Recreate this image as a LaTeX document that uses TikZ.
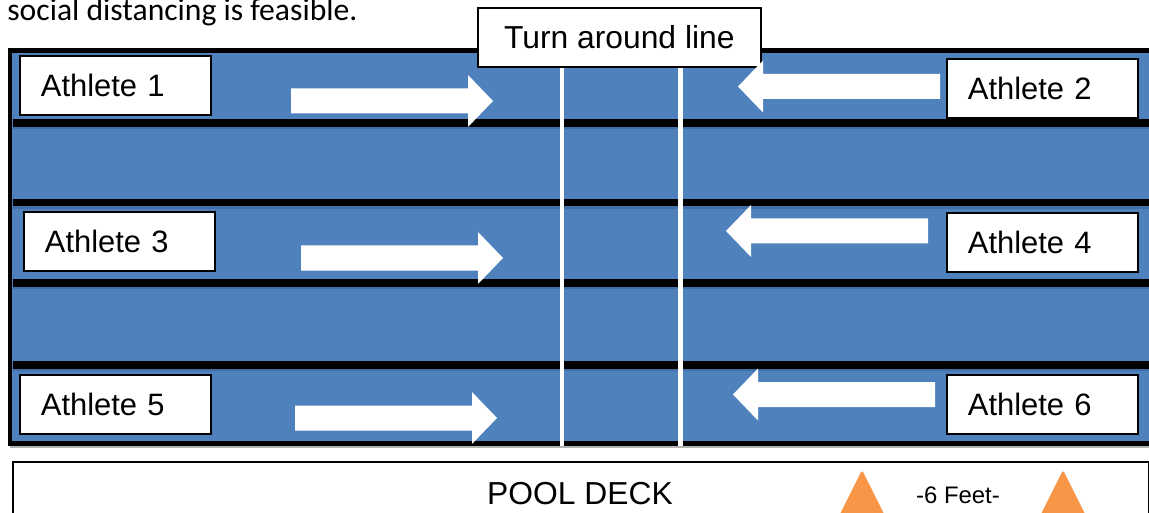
\documentclass[tikz,border=0pt]{standalone}
\usepackage{fontspec}
\setmainfont{Liberation Sans}
\newfontfamily\bodyfont{Carlito}
\definecolor{poolblue}{HTML}{4F81BD}
\definecolor{poolshade}{HTML}{3A6597}
\definecolor{conecolor}{HTML}{F79646}
\begin{document}
\begin{tikzpicture}[x=0.02cm,y=-0.02cm,
  lane/.style={line width=4pt,black},
  laneshadow/.style={line width=1.6pt,poolshade,opacity=0.6},
  turnline/.style={line width=2.8pt,white},
  athbox/.style={draw=black,line width=1pt,fill=white,anchor=north west,
    inner xsep=0.42cm,inner ysep=0pt,text width=2.98cm,align=left,
    minimum height=1.18cm,font=\fontsize{17.6}{20}\selectfont},
  goright/.pic={\fill[white] (0,-12.5) -- (177,-12.5) -- (177,-26) -- (202,0)
    -- (177,26) -- (177,12.5) -- (0,12.5) -- cycle;},
  goleft/.pic={\fill[white] (0,-12.5) -- (-177,-12.5) -- (-177,-26) -- (-202,0)
    -- (-177,26) -- (-177,12.5) -- (0,12.5) -- cycle;}]
\useasboundingbox (0,0) rectangle (1149,513);
\clip (0,0) rectangle (1149,513);

% caption line above the pool
\node[anchor=base west,inner sep=0pt,font=\bodyfont\fontsize{18}{22}\selectfont]
  (caption) at (7,20.5) {social distancing is feasible.};

% pool water and outer wall
\fill[poolblue] (10,50.5) rectangle (1170,443.5);
\draw[gray!60,line width=0.8pt] (10,447) -- (1170,447);
\draw[black,line width=2.8pt] (1170,50.5) -- (10,50.5) -- (10,443.5) -- (1170,443.5);

% lane ropes
\foreach \y in {123,202.5,283,365}{
  \draw[laneshadow] (13,\y+5) -- (1170,\y+5);
  \draw[lane] (13,\y) -- (1170,\y);
}

% turn around lines
\coordinate (tl1top) at (562,66);
\coordinate (tl1bot) at (562,446);
\coordinate (tl2top) at (680.5,66);
\coordinate (tl2bot) at (680.5,446);
\draw[turnline] (tl1top) -- (tl1bot);
\draw[turnline] (tl2top) -- (tl2bot);

\node[draw=black,line width=1pt,fill=white,minimum width=5.66cm,minimum height=1.18cm,
  inner sep=0pt,anchor=north west,font=\fontsize{18.1}{20}\selectfont]
  (turn) at (477,7) {Turn around line};

% swimmer directions
\pic at (291,101) {goright};
\pic at (301,258) {goright};
\pic at (295,418) {goright};
\pic at (940,86.5) {goleft};
\pic at (928,231) {goleft};
\pic at (935,394.5) {goleft};

% athlete labels
\node[athbox] (a1) at (19,55) {Athlete 1};
\node[athbox] (a2) at (946,58) {Athlete 2};
\node[athbox] (a3) at (23,211) {Athlete 3};
\node[athbox] (a4) at (946,212) {Athlete 4};
\node[athbox] (a5) at (19,374) {Athlete 5};
\node[athbox] (a6) at (946,374) {Athlete 6};

% pool deck
\node[draw=black,line width=0.9pt,fill=white,anchor=north west,inner sep=0pt,
  minimum width=22.72cm,minimum height=1.6cm] (deck) at (12,461) {};
\node[anchor=base,inner sep=0pt,font=\fontsize{18.1}{20}\selectfont]
  (decklabel) at (580,504) {POOL DECK};
\fill[conecolor,rounded corners=1.5pt] (862,470) -- (907,560) -- (817,560) -- cycle;
\fill[conecolor,rounded corners=1.5pt] (1063,470) -- (1108,560) -- (1018,560) -- cycle;
\node[anchor=base,inner sep=0pt,font=\fontsize{13.6}{16}\selectfont]
  (feet) at (958,503) {-6 Feet-};
\end{tikzpicture}
\end{document}
